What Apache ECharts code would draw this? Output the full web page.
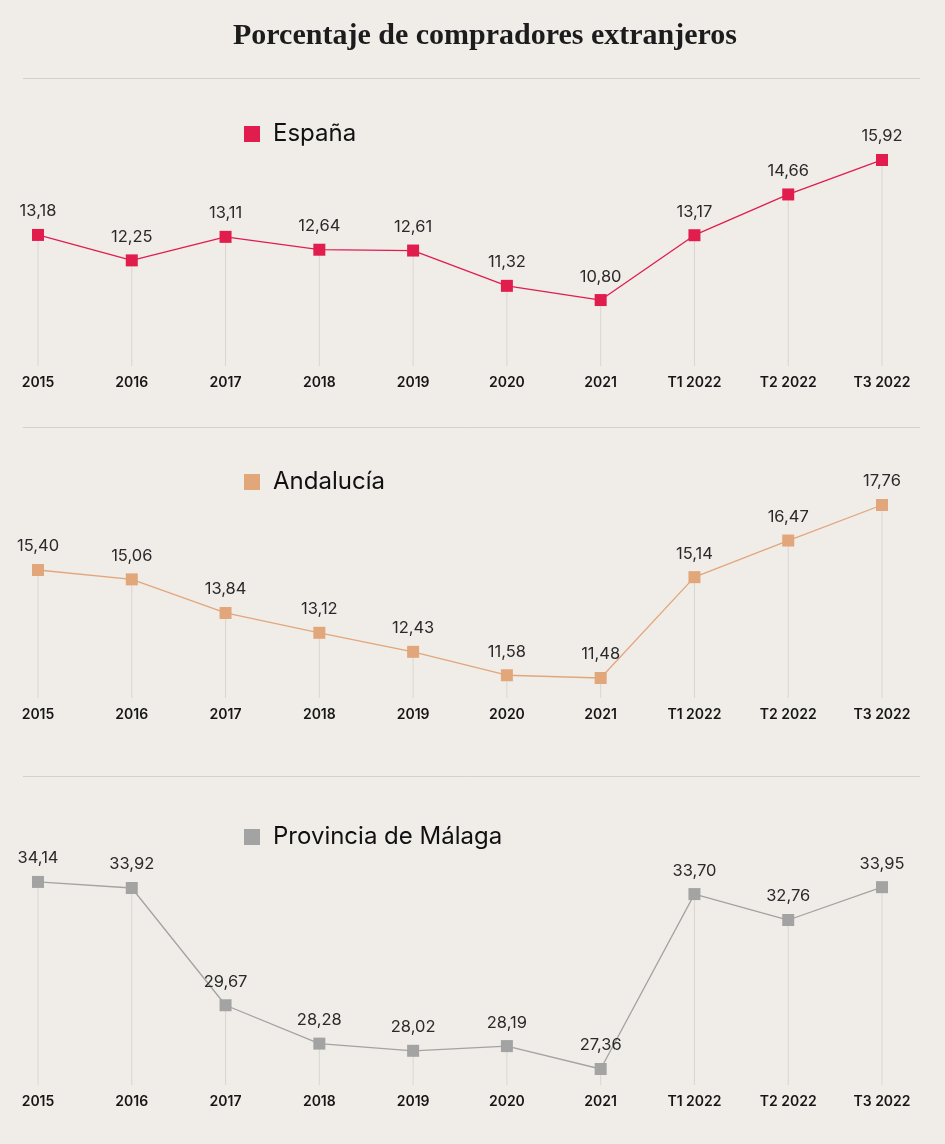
<!DOCTYPE html>
<html>
<head>
<meta charset="utf-8">
<script src="https://cdn.jsdelivr.net/npm/echarts@6/dist/echarts.min.js"></script>
<style>
html,body{margin:0;padding:0;background:#f0ece8;}
#chart{width:945px;height:1144px;}
</style>
</head>
<body>
<div id="chart"></div>
<script>
const categories = ['2015','2016','2017','2018','2019','2020','2021','T1 2022','T2 2022','T3 2022'];
const espana = [13.18,12.25,13.11,12.64,12.61,11.32,10.80,13.17,14.66,15.92];
const andalucia = [15.40,15.06,13.84,13.12,12.43,11.58,11.48,15.14,16.47,17.76];
const malaga = [34.14,33.92,29.67,28.28,28.02,28.19,27.36,33.70,32.76,33.95];
const seriesNames = ['España','Andalucía','Provincia de Málaga'];
const colors = ['#e11d4e','#e2a67b','#a3a3a3'];

const panels = [
  {data: espana, top: 140, height: 226, min: 8.39, max: 16.65, legendTop: 117},
  {data: andalucia, top: 480, height: 218, min: 10.754, max: 18.667, legendTop: 465},
  {data: malaga, top: 840, height: 245, min: 26.78, max: 35.66, legendTop: 820}
];

const fmt = v => v.toFixed(2).replace('.', ',');
const grid = [], xAxis = [], yAxis = [], series = [], legend = [];
panels.forEach((p, i) => {
  grid.push({left: 38, right: 63, top: p.top, height: p.height});
  xAxis.push({
    type: 'category', gridIndex: i, data: categories, boundaryGap: false,
    axisLine: {show: false}, axisTick: {show: false}, splitLine: {show: false},
    axisLabel: {color: '#161616', fontFamily: 'Inter', fontWeight: 600, fontSize: 14, margin: 10}
  });
  yAxis.push({type: 'value', gridIndex: i, min: p.min, max: p.max, show: false, splitLine: {show: false}});
  series.push({
    type: 'bar', name: 'drop' + i, xAxisIndex: i, yAxisIndex: i, data: p.data,
    barWidth: 1, itemStyle: {color: '#d9d5d1'}, z: 1, silent: true
  });
  series.push({
    type: 'line', name: seriesNames[i], xAxisIndex: i, yAxisIndex: i, data: p.data,
    symbol: 'rect', symbolSize: 12, color: colors[i],
    lineStyle: {width: 1.3, color: colors[i]}, itemStyle: {color: colors[i]},
    z: 3,
    label: {show: true, position: 'top', distance: 9, color: '#2a2a2a', fontFamily: 'Inter', fontSize: 16.5,
      formatter: d => fmt(d.value)}
  });
  legend.push({
    data: [{name: seriesNames[i], icon: 'rect'}], left: 239, top: p.legendTop,
    itemWidth: 16, itemHeight: 16, selectedMode: false,
    textStyle: {color: '#111', fontFamily: 'Inter', fontSize: 24, padding: [0,0,0,8]}
  });
});

const chart = echarts.init(document.getElementById('chart'));
chart.setOption({
  backgroundColor: '#f0ece8',
  animation: false,
  grid, xAxis, yAxis, series, legend,
  graphic: [
    {type: 'text', x: 485, y: 36, style: {text: 'Porcentaje de compradores extranjeros', fill: '#1c1c1c',
      font: 'bold 30px "Liberation Serif", serif', textAlign: 'center', textVerticalAlign: 'middle'}},
    {type: 'line', shape: {x1: 23, y1: 78.5, x2: 920, y2: 78.5}, style: {stroke: '#d4d0cc', lineWidth: 1}},
    {type: 'line', shape: {x1: 23, y1: 427.5, x2: 920, y2: 427.5}, style: {stroke: '#d4d0cc', lineWidth: 1}},
    {type: 'line', shape: {x1: 23, y1: 776.5, x2: 920, y2: 776.5}, style: {stroke: '#d4d0cc', lineWidth: 1}}
  ]
});
</script>
</body>
</html>
